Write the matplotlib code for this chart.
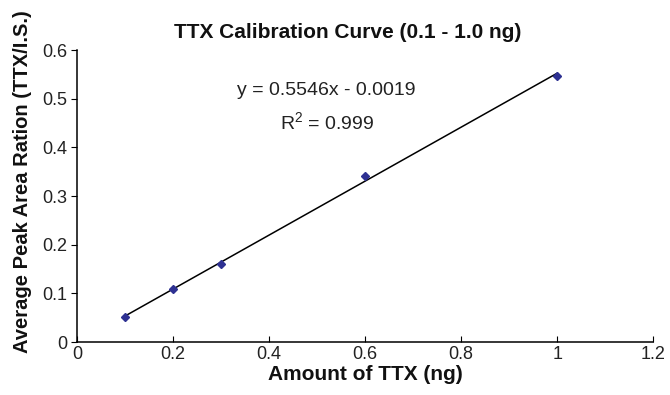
import matplotlib
matplotlib.use('Agg')
import matplotlib.pyplot as plt

plt.rcParams['font.family'] = ['Liberation Sans', 'DejaVu Sans']

# 数据
amount = [0.1, 0.2, 0.3, 0.6, 1.0]
ratio = [0.052, 0.110, 0.160, 0.342, 0.547]
slope = 0.5546
intercept = -0.0019

fig = plt.figure(figsize=(6.7, 3.95), dpi=100)
ax = fig.add_axes([0.115, 0.134, 0.86, 0.739])

# 趋势线
fit_x = [amount[0], amount[-1]]
fit_y = [slope * x + intercept for x in fit_x]
ax.plot(fit_x, fit_y, color='black', lw=1.1, zorder=2)
ax.plot(amount, ratio, linestyle='none', marker='D', markersize=4.5,
        color='#2E3192', zorder=3)

ax.set_xlim(0, 1.2)
ax.set_ylim(0, 0.6)
ax.set_xticks([0, 0.2, 0.4, 0.6, 0.8, 1, 1.2])
ax.set_xticklabels(['0', '0.2', '0.4', '0.6', '0.8', '1', '1.2'])
ax.set_yticks([0, 0.1, 0.2, 0.3, 0.4, 0.5, 0.6])
ax.set_yticklabels(['0', '0.1', '0.2', '0.3', '0.4', '0.5', '0.6'])
ax.tick_params(axis='x', direction='in', length=4, labelsize=13, pad=3,
               labelcolor='#222222')
ax.tick_params(axis='y', direction='out', length=4, labelsize=13, pad=3,
               labelcolor='#222222')
for s in ['top', 'right']:
    ax.spines[s].set_visible(False)
for s in ['left', 'bottom']:
    ax.spines[s].set_linewidth(1.1)

ax.set_title('TTX Calibration Curve (0.1 - 1.0 ng)', fontsize=15,
             fontweight='bold', pad=9, color='#111111', x=0.47)
ax.set_xlabel('Amount of TTX (ng)', fontsize=15, fontweight='bold', labelpad=1,
              color='#111111')
ax.set_ylabel('Average Peak Area Ration (TTX/I.S.)', fontsize=14.5,
              fontweight='bold', color='#111111')
ax.yaxis.set_label_coords(-0.078, 0.55)

ax.text(0.52, 0.518, 'y = 0.5546x - 0.0019', fontsize=14, ha='center', va='center',
        color='#222222')
ax.text(0.52, 0.452, '$\\mathregular{R^2}$ = 0.999', fontsize=14, ha='center',
        va='center', color='#222222')

fig.savefig('out.png', dpi=100)
